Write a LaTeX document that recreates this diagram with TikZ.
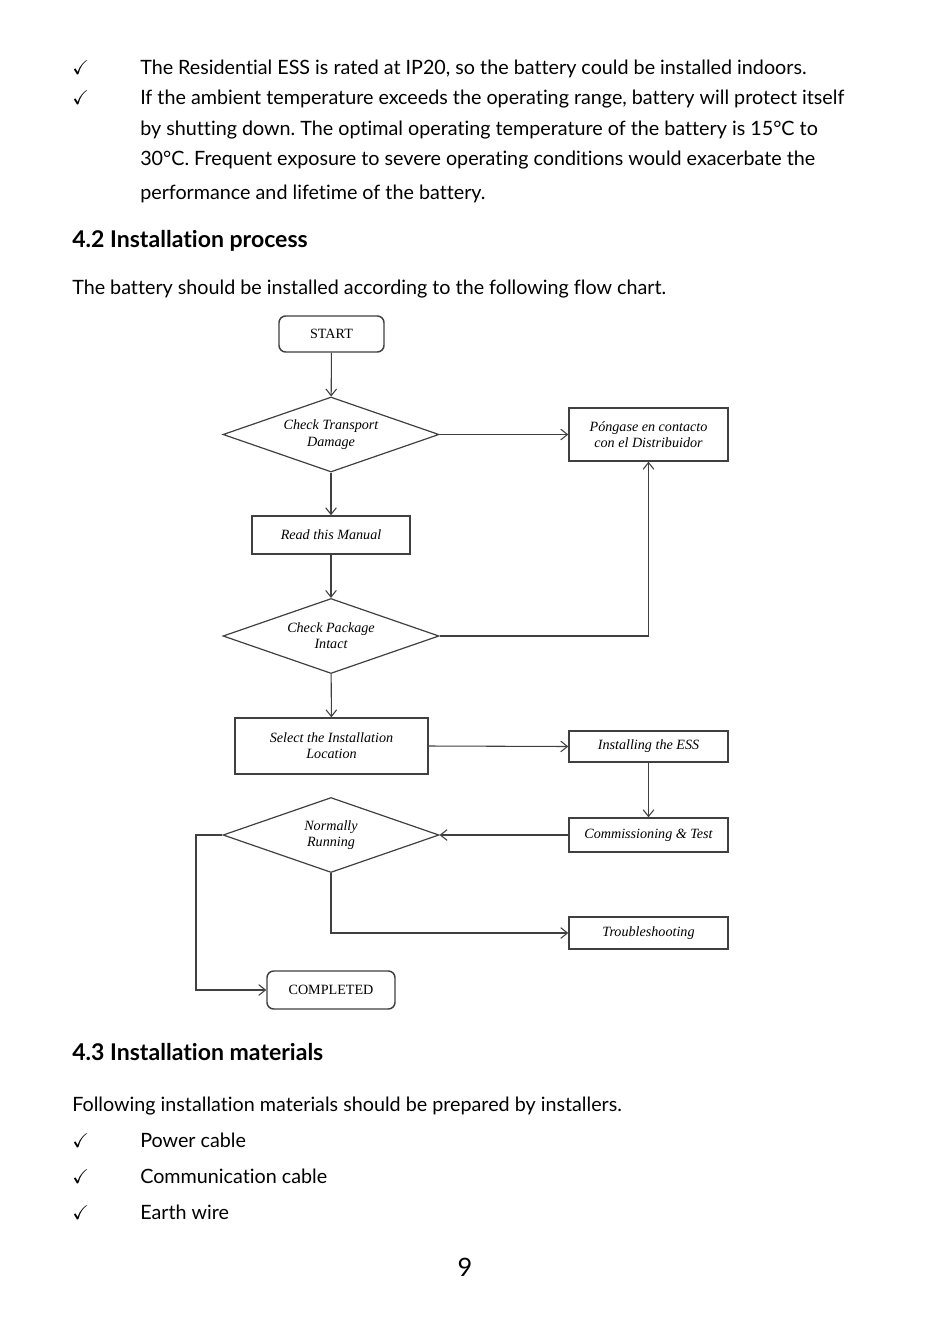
\documentclass[tikz,border=0pt]{standalone}
\usepackage{amssymb}
\usepackage{fontspec}
\newfontfamily\bodyfont[Ligatures=NoCommon]{Lato}
\newfontfamily\flowfont{Liberation Serif}
\usetikzlibrary{shapes.geometric,arrows.meta}
\frenchspacing
\tikzset{
  txt/.style={anchor=base west,inner sep=0pt,font=\bodyfont\fontsize{14.8pt}{17pt}\selectfont\frenchspacing},
  head/.style={anchor=base west,inner sep=0pt,font=\bodyfont\bfseries\fontsize{17.3pt}{20pt}\selectfont},
  chk/.style={anchor=base west,inner sep=0pt,font=\fontsize{15pt}{17pt}\selectfont},
  fbox/.style={draw=black!75,line width=1.1pt,rectangle,inner sep=0pt,align=center,font=\flowfont\itshape\fontsize{10.6pt}{12.2pt}\selectfont},
  term/.style={fbox,rounded corners=5pt,font=\flowfont\fontsize{10.6pt}{12.2pt}\selectfont},
  dec/.style={draw=black!75,line width=0.9pt,diamond,aspect=2.88,inner sep=0pt,align=center,minimum width=162pt,minimum height=56.25pt,font=\flowfont\itshape\fontsize{10.6pt}{12.2pt}\selectfont},
  conn/.style={draw=black!75,line width=0.8pt,-{Straight Barb[length=5pt,width=8pt]}}
}
\begin{document}
\begin{tikzpicture}[x=0.75pt,y=-0.75pt]
\useasboundingbox (0,0) rectangle (950,1324);
\fill[white] (0,0) rectangle (950,1324);
% top text
\node[chk] (c1) at (72,74) {$\checkmark$};
\node[txt] (t1) at (140,74) {The Residential ESS is rated at IP20, so the battery could be installed indoors.};
\node[chk] (c2) at (72,104) {$\checkmark$};
\node[txt] (t2) at (140,104) {If the ambient temperature exceeds the operating range, battery will protect itself};
\node[txt] (t3) at (140,135) {by shutting down. The optimal operating temperature of the battery is 15°C to};
\node[txt] (t4) at (140,165) {30°C. Frequent exposure to severe operating conditions would exacerbate the};
\node[txt] (t5) at (140,199) {performance and lifetime of the battery.};
\node[head] (h42) at (72,247) {4.2 Installation process};
\node[txt] (t6) at (72,294) {The battery should be installed according to the following flow chart.};
% flowchart
\node[term,minimum width=78.75pt,minimum height=27pt] (start) at (331.5,334) {START};
\node[dec] (ctd) at (331,434.5) {Check Transport\\Damage};
\node[fbox,minimum width=119.25pt,minimum height=39.75pt] (dist) at (648.5,434.5) {Póngase en contacto\\con el Distribuidor};
\node[fbox,minimum width=118.5pt,minimum height=28.5pt] (read) at (331,535) {Read this Manual};
\node[dec] (cpi) at (331,636) {Check Package\\Intact};
\node[fbox,minimum width=144.75pt,minimum height=42pt] (sel) at (331.5,746) {Select the Installation\\Location};
\node[fbox,minimum width=119.25pt,minimum height=23.25pt] (inst) at (648.5,746.5) {Installing the ESS};
\node[fbox,minimum width=119.25pt,minimum height=25.5pt] (comm) at (648.5,835) {Commissioning \& Test};
\node[dec] (nr) at (331,835) {Normally\\Running};
\node[fbox,minimum width=119.25pt,minimum height=24pt] (trb) at (648.5,933) {Troubleshooting};
\node[term,minimum width=96pt,minimum height=28.5pt] (done) at (331,990) {COMPLETED};
\coordinate (k1) at (648.5,636);
\coordinate (k2) at (331,933);
\coordinate (k3) at (196,835);
\coordinate (k4) at (196,990);
\draw[conn] (start) -- (ctd);
\draw[conn] (ctd) -- (dist);
\draw[conn] (ctd) -- (read);
\draw[conn] (read) -- (cpi);
\draw[conn] (cpi.east) -- (k1) -- (dist.south);
\draw[conn] (cpi) -- (sel);
\draw[conn] (sel.east) -- (inst.west);
\draw[conn] (inst) -- (comm);
\draw[conn] (comm.west) -- (nr.east);
\draw[conn] (nr.south) -- (k2) -- (trb.west);
\draw[conn] (nr.west) -- (k3) -- (k4) -- (done.west);
% bottom text
\node[head] (h43) at (72,1060) {4.3 Installation materials};
\node[txt] (t7) at (72,1111) {Following installation materials should be prepared by installers.};
\node[chk] (c3) at (72,1147) {$\checkmark$};
\node[txt] (t8) at (140,1147) {Power cable};
\node[chk] (c4) at (72,1183) {$\checkmark$};
\node[txt] (t9) at (140,1183) {Communication cable};
\node[chk] (c5) at (72,1219) {$\checkmark$};
\node[txt] (t10) at (140,1219) {Earth wire};
\node[anchor=base,inner sep=0pt,font=\bodyfont\fontsize{19pt}{22pt}\selectfont] (pg) at (465,1276) {9};
\end{tikzpicture}
\end{document}
